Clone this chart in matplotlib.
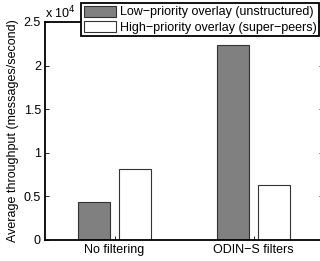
import matplotlib
matplotlib.use("Agg")
import matplotlib.pyplot as plt
import numpy as np

categories = ["No filtering", "ODIN\u2212S filters"]
low_priority = [4360, 22360]
high_priority = [8150, 6300]
series_labels = ["Low\u2212priority overlay (unstructured)", "High\u2212priority overlay (super\u2212peers)"]
yticks = [0, 0.5, 1, 1.5, 2, 2.5]

plt.rcParams['font.family'] = ['Liberation Sans', 'DejaVu Sans']
fig = plt.figure(figsize=(3.2, 2.61), dpi=100)
ax = fig.add_axes([45/320, 1-240/261, 278/320, 218/261])

x = np.arange(1, len(categories)+1)
w = 0.23
off = 0.144
scale = 1e4
ax.bar(x - off, np.array(low_priority)/scale, w, color='#808080', edgecolor='#333333', linewidth=0.8, label=series_labels[0])
ax.bar(x + off, np.array(high_priority)/scale, w, color='white', edgecolor='#333333', linewidth=0.8, label=series_labels[1])

ax.set_xlim(0.5, 2.5)
ax.set_ylim(0, 2.5)
ax.set_yticks(yticks)
ax.set_yticklabels(["0", "0.5", "1", "1.5", "2", "2.5"])
ax.set_xticks(x)
ax.set_xticklabels(categories)
ax.tick_params(direction='in', length=3, width=0.6, labelsize=9, pad=3, right=True, top=False)
for s in ax.spines.values():
    s.set_linewidth(1.3)
ax.set_ylabel("Average throughput (messages/second)", fontsize=9, labelpad=3)

fig.text(45/320, 1-18/261, "x 10$^{4}$", fontsize=9, va='baseline', ha='left')

leg = ax.legend(loc='upper right', bbox_to_anchor=(319/320, 1-3/261), bbox_transform=fig.transFigure,
                fontsize=9, frameon=True, fancybox=False, edgecolor='black', framealpha=1,
                borderpad=0.2, labelspacing=0.2, handlelength=2.6, handleheight=1.0, handletextpad=0.3, borderaxespad=0)
leg.get_frame().set_linewidth(1.3)

fig.savefig("out.png", dpi=100)
